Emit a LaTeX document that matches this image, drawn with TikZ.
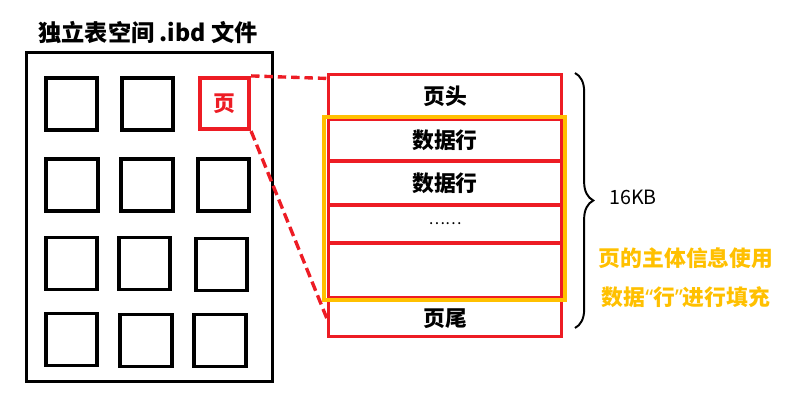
\documentclass[tikz,border=0pt]{standalone}
\usepackage{fontspec}
\setmainfont{Noto Sans CJK SC}
\newfontfamily\latinq{Noto Sans}
\usetikzlibrary{decorations.pathreplacing}

\definecolor{pgred}{HTML}{ED1C24}
\definecolor{pgyellow}{HTML}{FFC000}

\tikzset{
  box/.style={draw, line width=2.8pt, minimum width=1.28cm, minimum height=1.3cm, inner sep=0pt},
  rowbox/.style={draw=pgred, line width=2.4pt, minimum width=5.825cm, inner sep=0pt,
    font=\fontsize{15.5}{18}\selectfont\bfseries},
}

\begin{document}
\begin{tikzpicture}[x=0.025cm, y=-0.025cm]

        \useasboundingbox (0,0) rectangle (790,406);

        % Archivo .ibd
        \node[font=\fontsize{16.5}{20}\selectfont\bfseries] (title) at (148, 33) {独立表空间 .ibd 文件};
        \node[draw, line width=2.4pt, minimum width=6.15cm, minimum height=8.225cm, inner sep=0pt] (file) at (149.5, 217) {};

        % Paginas
        \node[box] (p11) at (71.5, 104) {};
        \node[box] (p12) at (147.5, 104) {};
        \node[box, draw=pgred, text=pgred, minimum width=1.23cm, minimum height=1.28cm,
              font=\fontsize{15.5}{18}\selectfont\bfseries] (pg) at (224.5, 103.5) {页};
        \node[box] (p21) at (72, 185) {};
        \node[box] (p22) at (147, 185) {};
        \node[box] (p23) at (223.5, 185) {};
        \node[box] (p31) at (71.5, 263.5) {};
        \node[box] (p32) at (144.5, 263.5) {};
        \node[box] (p33) at (221.5, 264.5) {};
        \node[box] (p41) at (71.5, 339.5) {};
        \node[box] (p42) at (146, 340.5) {};
        \node[box] (p43) at (220, 340.5) {};

        % Estructura de la pagina
        \node[rowbox, minimum height=1.0875cm] (hdr) at (445, 96.25) {页头};
        \node[rowbox, minimum height=1.05cm] (row1) at (445, 140) {数据行};
        \node[rowbox, minimum height=1.1cm] (row2) at (445, 183) {数据行};
        \node[rowbox, minimum height=0.95cm, font=\fontsize{11}{13}\selectfont] (row3) at (445, 224) {……};
        \node[rowbox, minimum height=1.375cm] (row4) at (445, 270.5) {};
        \node[rowbox, minimum height=0.9125cm] (tail) at (445, 318.25) {页尾};
        \node[draw=pgyellow, line width=3pt, minimum width=6.025cm, minimum height=4.575cm, inner sep=0pt] (body) at (444.5, 208.5) {};

        % Lineas de zoom
        \draw[pgred, line width=2.4pt, dash pattern=on 6pt off 3.5pt] (pg.north east) -- ([yshift=-4pt]hdr.north west);
        \draw[pgred, line width=2.4pt, dash pattern=on 7pt off 3.5pt] (pg.south east) -- (tail.west);

        % Llave
        \coordinate (btop) at (575, 73);
        \coordinate (bbot) at (575, 328);
        \draw[line width=1.4pt, decorate, decoration={brace, amplitude=13pt}] (btop) -- (bbot);
        \node[font=\fontsize{14}{17}\selectfont] (size) at (633, 197) {16KB};

        % Nota
        \node[text=pgyellow, font=\fontsize{15.5}{18}\selectfont\bfseries] (note1) at (686, 258) {页的主体信息使用};
        \node[text=pgyellow, font=\fontsize{15.5}{18}\selectfont\bfseries] (note2) at (686, 297) {数据{\latinq “}行{\latinq ”}进行填充};

\end{tikzpicture}
\end{document}
